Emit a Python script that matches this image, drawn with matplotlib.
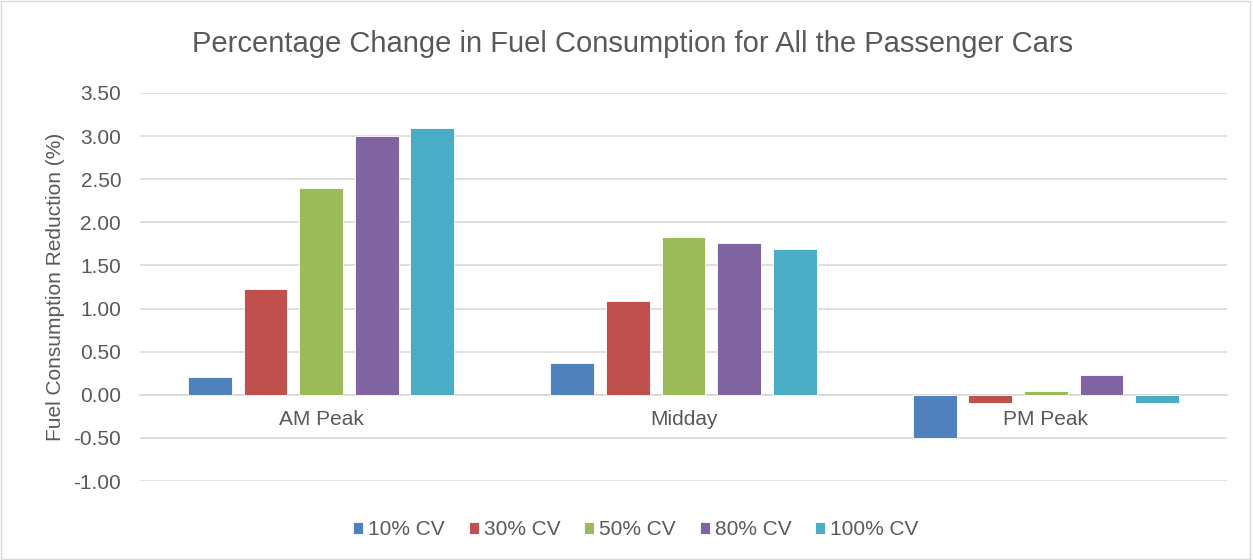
import numpy as np
import matplotlib.pyplot as plt
from matplotlib.patches import Rectangle

# data
periods = ['AM Peak', 'Midday', 'PM Peak']
series = ['10% CV', '30% CV', '50% CV', '80% CV', '100% CV']
cv10 = [0.21, 0.37, -0.50]
cv30 = [1.23, 1.09, -0.09]
cv50 = [2.40, 1.83, 0.04]
cv80 = [3.00, 1.76, 0.23]
cv100 = [3.09, 1.69, -0.09]
colors = ['#4F81BD', '#C0504D', '#9BBB59', '#8064A2', '#4BACC6']
yticks = [3.5, 3.0, 2.5, 2.0, 1.5, 1.0, 0.5, 0.0, -0.5, -1.0]

plt.rcParams['font.family'] = ['Liberation Sans', 'DejaVu Sans']
txt = '#595959'

fig = plt.figure(figsize=(12.53, 5.6), dpi=100)
ax = fig.add_axes([0.1117, 0.141, 0.9793 - 0.1117, 0.834 - 0.141])

x = np.arange(len(periods))
width = 0.121
step = 0.1535
for i, (name, vals) in enumerate(zip(series, [cv10, cv30, cv50, cv80, cv100])):
    ax.bar(x + (i - 2) * step, vals, width, color=colors[i], label=name,
           edgecolor='white', linewidth=0.6, zorder=3)

ax.set_xlim(-0.5, 2.5)
ax.set_ylim(-1.0, 3.5)
ax.set_yticks(yticks)
ax.set_yticklabels(['%.2f' % v for v in yticks])
ax.grid(axis='y', color='#D9D9D9', linewidth=1.2, zorder=0)
ax.set_axisbelow(True)

for s in ['top', 'right', 'left']:
    ax.spines[s].set_visible(False)
ax.spines['bottom'].set_position(('data', 0))
ax.spines['bottom'].set_color('#D9D9D9')
ax.spines['bottom'].set_linewidth(1.2)
ax.set_xticks(x)
ax.set_xticklabels(periods)
ax.tick_params(axis='x', length=0, pad=11, labelsize=15, labelcolor=txt)
ax.tick_params(axis='y', length=0, pad=13.5, labelsize=15, labelcolor=txt)

ax.set_ylabel('Fuel Consumption Reduction (%)', fontsize=15, color=txt, labelpad=6)
fig.suptitle('Percentage Change in Fuel Consumption for All the Passenger Cars',
             fontsize=21, color=txt, x=0.505, y=0.921, va='center')

fig.legend(*ax.get_legend_handles_labels(), loc='center',
           bbox_to_anchor=(0.5075, 0.054), ncol=5, frameon=False,
           fontsize=15, labelcolor=txt, handlelength=0.48, handleheight=0.48,
           handletextpad=0.24, columnspacing=1.15)

fig.patches.append(Rectangle((0.001, 0.001), 0.997, 0.997, transform=fig.transFigure,
                             fill=False, edgecolor='#D9D9D9', linewidth=1))

fig.savefig('out.png', dpi=100)
